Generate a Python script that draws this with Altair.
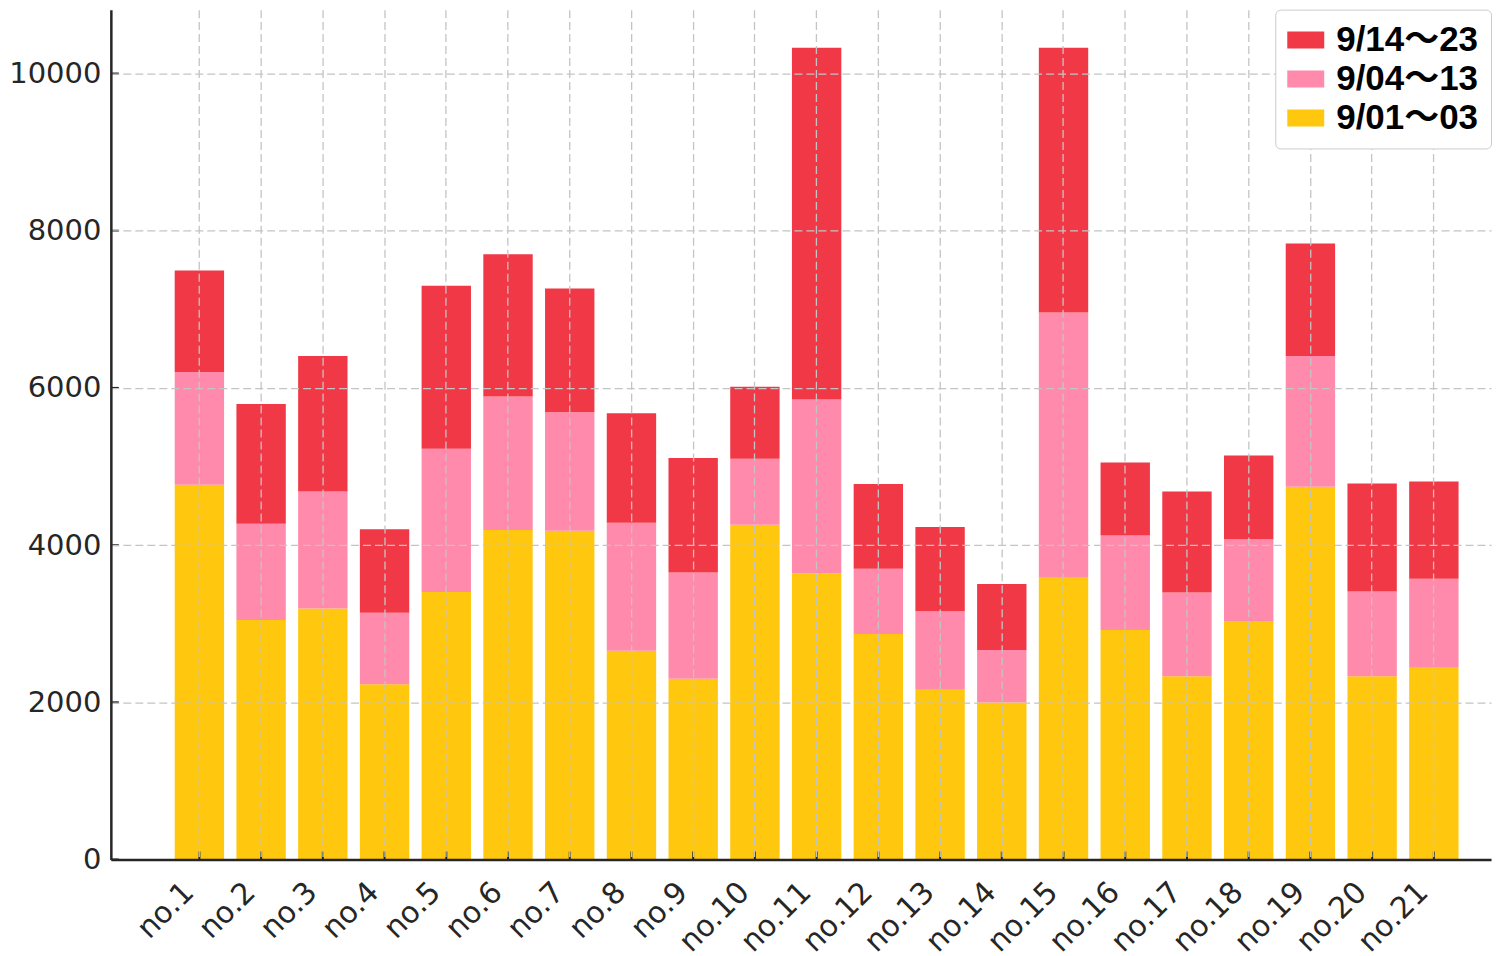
import altair as alt
import pandas as pd

categories = ["no.1", "no.2", "no.3", "no.4", "no.5", "no.6", "no.7", "no.8", "no.9", "no.10",
              "no.11", "no.12", "no.13", "no.14", "no.15", "no.16", "no.17", "no.18", "no.19",
              "no.20", "no.21"]
series = ["9/01～03", "9/04～13", "9/14～23"]
legend_order = ["9/14～23", "9/04～13", "9/01～03"]

s_0901_03 = [4767, 3046, 3193, 2231, 3402, 4191, 4182, 2655, 2299, 4258, 3639,
             2868, 2159, 1998, 3584, 2919, 2333, 3033, 4742, 2333, 2439]
s_0904_13 = [1434, 1225, 1489, 908, 1823, 1700, 1510, 1629, 1352, 840, 2213,
             830, 1001, 666, 3375, 1203, 1064, 1043, 1663, 1077, 1132]
s_0914_23 = [1293, 1523, 1723, 1064, 2074, 1811, 1573, 1395, 1456, 916, 4475,
             1078, 1069, 840, 3368, 929, 1285, 1064, 1432, 1374, 1238]

y_ticks = [0, 2000, 4000, 6000, 8000, 10000]
colors = {"9/14～23": "#F03846", "9/04～13": "#FF8AAB", "9/01～03": "#FFC80F"}

rows = []
for k, (name, vals) in enumerate(zip(series, [s_0901_03, s_0904_13, s_0914_23])):
    for c, v in zip(categories, vals):
        rows.append({"cat": c, "series": name, "value": v, "order": k})
df = pd.DataFrame(rows)

W, H = 1382, 851
INK = "#262626"
FONT = "DejaVu Sans"
GRID = dict(grid=True, gridDash=[8, 4], gridColor="#c4c4c4", gridWidth=1.3)

xscale = alt.Scale(domain=categories, paddingInner=0.2, paddingOuter=0.78, align=0.663)
yscale = alt.Scale(domain=[0, 10813], nice=False, zero=True)

xaxis = alt.Axis(title=None, labelAngle=-45, labelAlign="right", labelBaseline="top",
                 labelFontSize=30, labelFont=FONT, labelColor=INK, labelPadding=17,
                 labelOffset=-21, ticks=False, domainColor=INK, domainWidth=2.5,
                 zindex=1, **GRID)
yaxis = alt.Axis(title=None, values=y_ticks, format="d", labelFontSize=29,
                 labelFont=FONT, labelColor=INK, labelPadding=10, ticks=False,
                 domainColor=INK, domainWidth=2.5, zindex=1, **GRID)

bars = alt.Chart(df).mark_bar().encode(
    x=alt.X("cat:N", sort=categories, scale=xscale, axis=xaxis),
    y=alt.Y("value:Q", stack="zero", scale=yscale, axis=yaxis),
    color=alt.Color("series:N",
                    scale=alt.Scale(domain=legend_order, range=[colors[s] for s in legend_order]),
                    legend=alt.Legend(title=None, orient="top-right", offset=0,
                                      fillColor="white", strokeColor="#cccccc",
                                      cornerRadius=5, padding=12, labelFontSize=35,
                                      labelFont="Liberation Sans, Noto Sans CJK JP",
                                      labelFontWeight="bold", labelColor="black",
                                      symbolType="M-1,-0.46H1V0.46H-1Z", symbolSize=1369,
                                      symbolStrokeWidth=0, symbolOpacity=1, rowPadding=2,
                                      labelOffset=12, zindex=2)),
    order=alt.Order("order:Q", sort="ascending"),
)

xticks = alt.Chart(pd.DataFrame({"cat": categories})).mark_rule(
    color=INK, strokeWidth=2).encode(
    x=alt.X("cat:N", sort=categories, scale=xscale, axis=xaxis),
    y=alt.value(H), y2=alt.value(H - 8))

yticks = alt.Chart(pd.DataFrame({"value": y_ticks})).mark_rule(
    color=INK, strokeWidth=2).encode(
    y=alt.Y("value:Q", scale=yscale, axis=yaxis),
    x=alt.value(0), x2=alt.value(8))

chart = alt.layer(bars, xticks, yticks).properties(
    width=W, height=H, padding=0, background="white"
).configure_view(stroke=None)

chart.save("out.html", embed_options={"renderer": "svg", "actions": False})
